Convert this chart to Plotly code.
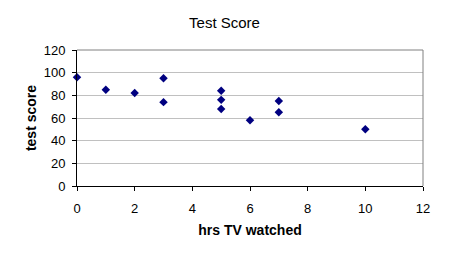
import plotly.graph_objects as go

hrs_tv = [0, 1, 2, 3, 3, 5, 5, 5, 6, 7, 7, 10]
test_score = [96, 85, 82, 95, 74, 84, 76, 68, 58, 75, 65, 50]

fig = go.Figure()
fig.add_trace(go.Scatter(
    x=hrs_tv, y=test_score, mode="markers",
    marker=dict(symbol="diamond", color="#000080", size=6.5, line=dict(width=0)),
    cliponaxis=False, showlegend=False,
))

font = "Liberation Sans, Arial, sans-serif"
fig.update_layout(
    width=449, height=259,
    margin=dict(l=77, r=26, t=50, b=73),
    paper_bgcolor="white", plot_bgcolor="white",
    font=dict(family=font, size=13, color="black"),
    title=dict(text="Test Score", x=0.5, xanchor="center",
               y=1 - 23 / 259, yanchor="middle",
               font=dict(family=font, size=15, color="black")),
    xaxis=dict(
        range=[0, 12], dtick=2, tick0=0, showgrid=False, zeroline=False,
        showline=True, linecolor="black", linewidth=1,
        ticks="outside", ticklen=4, tickcolor="black", ticklabelstandoff=6,
        tickfont=dict(family=font, size=13),
        title=dict(text="<b>hrs TV watched</b>", standoff=10,
                   font=dict(family=font, size=14)),
    ),
    yaxis=dict(
        range=[0, 120], dtick=20, tick0=0, showgrid=True, gridcolor="#c0c0c0",
        zeroline=False, showline=True, linecolor="black", linewidth=1,
        ticks="outside", ticklen=4, tickcolor="black", ticklabelstandoff=4,
        tickfont=dict(family=font, size=13),
        title=dict(text="<b>test score</b>", standoff=3,
                   font=dict(family=font, size=14)),
    ),
    shapes=[
        dict(type="line", xref="paper", yref="paper", x0=0, x1=1, y0=1, y1=1,
             line=dict(color="#808080", width=1)),
        dict(type="line", xref="paper", yref="paper", x0=1, x1=1, y0=0, y1=1,
             line=dict(color="#808080", width=1)),
    ],
)

fig.write_html("out.html")
